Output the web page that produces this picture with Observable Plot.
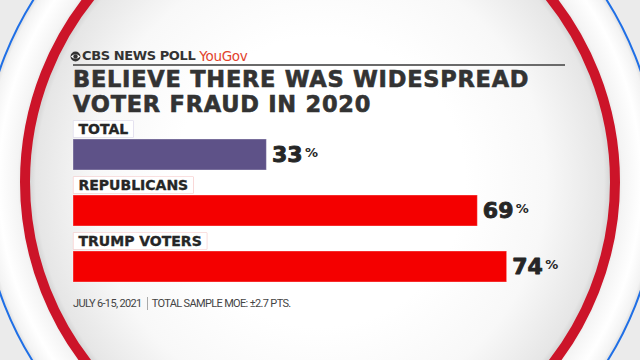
<!DOCTYPE html>
<html>
<head>
<meta charset="utf-8">
<script src="https://cdn.jsdelivr.net/npm/d3@7"></script>
<script src="https://cdn.jsdelivr.net/npm/@observablehq/plot@0.6"></script>
<style>
  html, body { margin: 0; padding: 0; }
  #stage { position: relative; width: 640px; height: 360px; overflow: hidden; background: #ebebeb; font-family: "DejaVu Sans", sans-serif; }
  .disc { position: absolute; border-radius: 50%; box-sizing: border-box; }
  #outer { left: -20px; top: -159px; width: 680px; height: 680px; border: 2px solid #1f6fe6;
    background: radial-gradient(closest-side, #cfcfcf 86%, #f4f4f4 89.5%, #ffffff 95%, #f3f3f3 99%, #e2e2e2 100%); }
  #ring { left: 20px; top: -118px; width: 600px; height: 600px; border: 10px solid #cc1429;
    background: radial-gradient(closest-side, #ffffff 50%, #f8f8f8 78%, #e6e6e6 98%, #d6d6d6 100%); }
  #header { position: absolute; left: 70px; top: 49px; height: 14px; line-height: 14px; display: flex; align-items: center; white-space: nowrap; }
  #header .cbs { font-weight: 700; font-size: 13px; color: #333; letter-spacing: -0.4px; }
  #header .yg { font-weight: 400; font-size: 13.5px; color: #e2432c; margin-left: 4px; letter-spacing: -0.3px; }
  #rule { position: absolute; left: 73px; top: 64px; width: 492px; height: 1.5px; background: #6a6a6a; }
  #title { position: absolute; left: 73px; top: 67px; font-weight: 700; font-size: 22.5px; line-height: 25px; color: #333; white-space: nowrap; letter-spacing: 0.75px; -webkit-text-stroke: 0.6px #333; }
  #footer { position: absolute; left: 73px; top: 297px; font-family: Roboto, sans-serif; font-size: 11px; line-height: 12px; color: #444; white-space: nowrap; letter-spacing: -0.65px; }
  #footer .sep { display: inline-block; width: 1px; height: 13px; background: #aaa; vertical-align: -3px; margin: 0 4px 0 5px; }
  #chart { position: absolute; left: 0; top: 0; }
</style>
</head>
<body>
<div id="stage">
  <div id="outer" class="disc"></div>
  <div id="ring" class="disc"></div>
  <div id="header">
    <svg width="11" height="11" viewBox="0 0 20 20" style="margin-right:1px">
      <circle cx="10" cy="10" r="9" fill="#333"/>
      <path d="M1.5 10 Q10 1.5 18.5 10 Q10 18.5 1.5 10 Z" fill="#fff"/>
      <circle cx="10" cy="10" r="4" fill="#333"/>
    </svg>
    <span class="cbs">CBS NEWS POLL</span><span class="yg">YouGov</span>
  </div>
  <div id="rule"></div>
  <div id="title">BELIEVE THERE WAS WIDESPREAD<br>VOTER FRAUD IN 2020</div>
  <div id="footer">JULY 6-15, 2021<span class="sep"></span>TOTAL SAMPLE MOE: ±2.7 PTS.</div>
  <div id="chart"></div>
</div>
<script>
const groups = ["TOTAL", "REPUBLICANS", "TRUMP VOTERS"];
const values = [33, 69, 74];
const barColors = ["#5e5288", "#f40000", "#f40000"];
const boxBorders = ["#d6d2e8", "#f6c2c2", "#f6c2c2"];

const data = groups.map((g, i) => ({group: g, value: values[i]}));

const chart = Plot.plot({
  width: 640,
  height: 360,
  margin: 0,
  style: {background: "transparent", overflow: "visible"},
  x: {domain: [0, 100], range: [73, 659], axis: null},
  y: {domain: groups, range: [120, 283], paddingInner: 0.115, paddingOuter: 0, align: 0, axis: null},
  color: {domain: groups, range: barColors},
  marks: [
    Plot.barX(data, {x: "value", y: "group", fill: "group", insetTop: 19, stroke: "white", strokeOpacity: 0.35, strokeWidth: 1}),
    Plot.text(data, {x: () => 0, y: "group", text: "group", textAnchor: "start", dx: 5, dy: -16,
      fontFamily: "'DejaVu Sans', sans-serif", fontWeight: 700, fontSize: 14, fill: "#262626",
      stroke: "#262626", strokeWidth: 0.35, className: "grp-label"}),
    Plot.text(data, {x: "value", y: "group", text: d => String(d.value), textAnchor: "start", dx: 5, dy: 9,
      fontFamily: "'DejaVu Sans', sans-serif", fontWeight: 700, fontSize: 22, fill: "#262626",
      stroke: "#262626", strokeWidth: 0.9}),
    Plot.text(data, {x: "value", y: "group", text: () => "%", textAnchor: "start", dx: 38, dy: 7,
      fontFamily: "'DejaVu Sans', sans-serif", fontWeight: 700, fontSize: 13, fill: "#262626"})
  ]
});
document.getElementById("chart").appendChild(chart);

// boxes behind the group labels, sized from the rendered text
chart.querySelectorAll(".grp-label text").forEach((t, i) => {
  const bb = t.getBBox();
  const r = document.createElementNS("http://www.w3.org/2000/svg", "rect");
  r.setAttribute("x", bb.x - 5);
  r.setAttribute("y", bb.y);
  r.setAttribute("width", bb.width + 10);
  r.setAttribute("height", bb.height);
  r.setAttribute("fill", "#ffffff");
  r.setAttribute("stroke", boxBorders[i]);
  r.setAttribute("stroke-width", 1.2);
  const tr = t.getAttribute("transform");
  if (tr) r.setAttribute("transform", tr);
  t.parentNode.insertBefore(r, t);
});
</script>
</body>
</html>
